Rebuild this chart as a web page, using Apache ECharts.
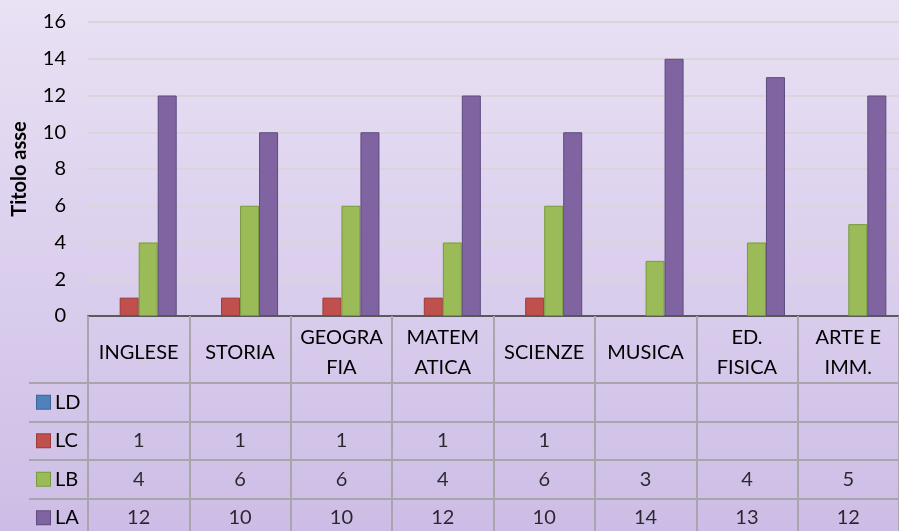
<!DOCTYPE html>
<html>
<head>
<meta charset="utf-8">
<script src="https://cdn.jsdelivr.net/npm/echarts@6/dist/echarts.min.js"></script>
<style>
  html, body { margin: 0; padding: 0; }
  #chart { width: 899px; height: 531px; }
</style>
</head>
<body>
<div id="chart"></div>
<script>
// materie (le etichette lunghe vanno a capo come nella tabella)
const categories = ["INGLESE", "STORIA", "GEOGRA\nFIA", "MATEM\nATICA", "SCIENZE", "MUSICA", "ED.\nFISICA", "ARTE E\nIMM."];
const seriesNames = ["LD", "LC", "LB", "LA"];
const valuesLD = [null, null, null, null, null, null, null, null];
const valuesLC = [1, 1, 1, 1, 1, null, null, null];
const valuesLB = [4, 6, 6, 4, 6, 3, 4, 5];
const valuesLA = [12, 10, 10, 12, 10, 14, 13, 12];
const yTicks = { min: 0, max: 16, interval: 2 };

const colors = ["#4f81bd", "#c0504d", "#9bbb59", "#8064a2"];
const borders = ["#3a6496", "#9c3b38", "#779a3c", "#5e4a7e"];
const allValues = [valuesLD, valuesLC, valuesLB, valuesLA];

const FONT = "Lato";
const tableLine = { color: "#a8a6ab", width: 2 };

const chart = echarts.init(document.getElementById("chart"));

// righe del corpo tabella (quadratino legenda + nome)
const rich = {};
seriesNames.forEach((n, i) => {
  rich["k" + i] = {
    width: 13, height: 13,
    backgroundColor: colors[i],
    borderColor: borders[i], borderWidth: 1
  };
});
rich.t = { fontFamily: FONT, fontSize: 20, color: "#000", padding: [0, 0, 0, 5] };

// valori nelle celle, posizionati con gli assi della griglia tabella
const cellData = [];
allValues.forEach((arr, r) => {
  arr.forEach((v, c) => {
    if (v !== null) cellData.push([c, r, v]);
  });
});

const barSeries = seriesNames.map((name, i) => ({
  name: name,
  type: "bar",
  xAxisIndex: 0,
  yAxisIndex: 0,
  data: allValues[i],
  barGap: "0%",
  barCategoryGap: "25%",
  itemStyle: { color: colors[i], borderColor: borders[i], borderWidth: 1 }
}));

chart.setOption({
  backgroundColor: {
    type: "linear", x: 0, y: 0, x2: 0, y2: 1,
    colorStops: [
      { offset: 0, color: "#e9e1f4" },
      { offset: 1, color: "#cdbde6" }
    ]
  },
  textStyle: { fontFamily: FONT },
  animation: false,
  grid: [
    { left: 88, right: 0, top: 22, height: 294, outerBoundsMode: "none", containLabel: false },
    { left: 88, right: 0, top: 383, height: 154, outerBoundsMode: "none", containLabel: false }
  ],
  xAxis: [
    {
      type: "category", gridIndex: 0, data: categories,
      axisLine: { lineStyle: { color: "#5a5a5a", width: 2 } },
      axisTick: { show: true, interval: 0, length: 67, lineStyle: tableLine },
      axisLabel: {
        interval: 0, margin: 37, verticalAlign: "middle",
        fontFamily: FONT, fontSize: 20, color: "#000", lineHeight: 30
      },
      splitLine: { show: false }
    },
    {
      type: "category", gridIndex: 1, data: categories,
      axisLine: { show: false }, axisTick: { show: false }, axisLabel: { show: false },
      splitLine: { show: true, interval: 0, lineStyle: tableLine }
    }
  ],
  yAxis: [
    {
      type: "value", gridIndex: 0,
      min: yTicks.min, max: yTicks.max, interval: yTicks.interval,
      name: "Titolo asse", nameLocation: "middle", nameGap: 58, nameRotate: 90,
      nameTextStyle: { fontFamily: FONT, fontSize: 20, fontWeight: "bold", color: "#000" },
      axisLine: { show: false }, axisTick: { show: false },
      axisLabel: { margin: 22, fontFamily: FONT, fontSize: 20, color: "#000" },
      splitLine: { lineStyle: { color: "#d8d6da", width: 2 } }
    },
    {
      type: "category", gridIndex: 1, data: seriesNames, inverse: true,
      axisLine: { show: false },
      axisTick: { show: true, interval: 0, length: 59, lineStyle: tableLine },
      axisLabel: {
        interval: 0, margin: 51, align: "left",
        formatter: (v, i) => "{k" + i + "|}{t|" + v + "}",
        rich: rich
      },
      splitLine: { show: true, interval: 0, lineStyle: tableLine }
    },
    {
      type: "category", gridIndex: 1, data: seriesNames, inverse: true, offset: 59,
      axisLine: { show: true, lineStyle: tableLine },
      axisTick: { show: false }, axisLabel: { show: false }, splitLine: { show: false }
    }
  ],
  series: barSeries.concat([
    {
      type: "scatter",
      xAxisIndex: 1, yAxisIndex: 1,
      data: cellData,
      symbolSize: 1,
      itemStyle: { color: "rgba(0,0,0,0)" },
      label: {
        show: true, position: "inside",
        formatter: p => String(p.value[2]),
        fontFamily: FONT, fontSize: 20, color: "#000"
      },
      silent: true
    }
  ])
});
</script>
</body>
</html>
